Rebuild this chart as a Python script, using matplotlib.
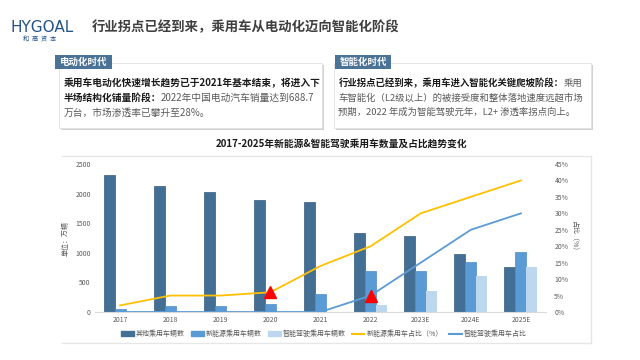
import matplotlib.pyplot as plt
import matplotlib.patches as mpatches
from matplotlib.lines import Line2D
from matplotlib.ticker import FuncFormatter, MultipleLocator

plt.rcParams['font.family'] = ['Noto Sans CJK SC', 'DejaVu Sans']

# data
years = ['2017', '2018', '2019', '2020', '2021', '2022', '2023E', '2024E', '2025E']
other_cars = [2320, 2130, 2030, 1900, 1850, 1340, 1280, 975, 760]
nev_cars = [50, 100, 100, 130, 300, 688.7, 690, 840, 1020]
smart_cars = [0, 0, 0, 0, 0, 110, 350, 600, 760]
nev_share = [0.02, 0.05, 0.05, 0.06, 0.14, 0.20, 0.30, 0.35, 0.40]
smart_share = [0.0, 0.0, 0.0, 0.0, 0.0, 0.05, 0.15, 0.25, 0.30]
legend_labels = ['其他乘用车辆数', '新能源乘用车辆数', '智能驾驶乘用车辆数',
                 '新能源乘用车占比（%）', '智能驾驶乘用车占比']

DARK = '#436F95'
MID = '#5B9BD5'
LIGHT = '#BDD7EE'
YELLOW = '#FFC000'
TAG = '#4A7396'

W, H = 640, 360


def fx(x):
    return x / W


def fy(y):
    return 1 - y / H


fig = plt.figure(figsize=(6.4, 3.6), dpi=100)
bg = fig.add_axes([0, 0, 1, 1])
bg.set_xlim(0, W)
bg.set_ylim(H, 0)
bg.axis('off')

# header
bg.text(11, 27, 'HYGOAL', fontsize=11, color='#24528A', family='DejaVu Sans',
        va='center', ha='left')
bg.text(40, 38.5, '和  高  资  本', fontsize=4.5, color='#24528A', va='center', ha='center')
bg.text(92, 27, '行业拐点已经到来，乘用车从电动化迈向智能化阶段', fontsize=9.6,
        fontweight='bold', color='#3F3F3F', va='center', ha='left')


def info_box(x0, x1, tag_x0, tag_x1, tag, lines, fs):
    y0, y1 = 63, 128
    bg.add_patch(mpatches.Rectangle((x0 + 2, y0 + 2), x1 - x0, y1 - y0,
                                    facecolor='#D0D0D0', edgecolor='none'))
    bg.add_patch(mpatches.Rectangle((x0, y0), x1 - x0, y1 - y0,
                                    facecolor='white', edgecolor='#E2E2E2', lw=0.6))
    bg.add_patch(mpatches.Rectangle((tag_x0, 55), tag_x1 - tag_x0, 14,
                                    facecolor=TAG, edgecolor='none'))
    bg.text((tag_x0 + tag_x1) / 2, 62, tag, fontsize=6.8, fontweight='bold',
            color='white', ha='center', va='center')
    for y, (bold_part, normal_part) in zip([83, 98, 112.5], lines):
        if bold_part:
            t = bg.text(x0 + 4.5, y, bold_part, fontsize=fs, fontweight='bold',
                        color='#1A1A1A', ha='left', va='center')
            if normal_part:
                bg.annotate(normal_part, xy=(1, 0), xycoords=t, fontsize=fs, color='#595959',
                            ha='left', va='bottom')
        else:
            bg.text(x0 + 4.5, y, normal_part, fontsize=fs, color='#595959',
                    ha='left', va='center')


info_box(59, 322, 55, 112, '电动化时代', [
    ('乘用车电动化快速增长趋势已于2021年基本结束，将进入下', ''),
    ('半场结构化铺量阶段：', '2022年中国电动汽车销量达到688.7'),
    ('', '万台，市场渗透率已攀升至28%。'),
], 7)
info_box(334, 591, 335, 391, '智能化时代', [
    ('行业拐点已经到来，乘用车进入智能化关键爬坡阶段：', '乘用'),
    ('', '车智能化（L2级以上）的被接受度和整体落地速度远超市场'),
    ('', '预期，2022 年成为智能驾驶元年，L2+ 渗透率拐点向上。'),
], 6.75)

# chart frame
bg.plot([62, 591], [156, 156], color='#E6E6E6', lw=1)
bg.plot([62, 591], [343, 343], color='#E6E6E6', lw=1)
bg.plot([591, 591], [156, 343], color='#E6E6E6', lw=1)
bg.text(342, 144, '2017-2025年新能源&智能驾驶乘用车数量及占比趋势变化', fontsize=7,
        fontweight='bold', color='#1A1A1A', ha='center', va='center')

ax = fig.add_axes([fx(95), fy(312), fx(546 - 95), (312 - 164) / H])
x = list(range(len(years)))
bw = 0.22
ax.bar([i - bw for i in x], other_cars, bw, color=DARK, edgecolor='#365C7E', lw=0.5)
ax.bar(x, nev_cars, bw, color=MID, edgecolor='#4F8CC4', lw=0.5)
ax.bar([i + bw for i in x], smart_cars, bw, color=LIGHT, edgecolor='none')
ax.set_xlim(-0.5, 8.5)
ax.set_ylim(0, 2500)
ax.yaxis.set_major_locator(MultipleLocator(500))
ax.set_xticks(x)
ax.set_xticklabels(years)
for s in ['top', 'left', 'right']:
    ax.spines[s].set_visible(False)
ax.spines['bottom'].set_color('#D9D9D9')
ax.tick_params(axis='both', length=0, labelsize=4.9, colors='#595959', pad=3)
ax.set_ylabel('单位：万辆', fontsize=5, color='#595959', labelpad=4)

ax2 = ax.twinx()
ax2.plot(x, nev_share, color=YELLOW, lw=1.3)
ax2.plot(x, smart_share, color=MID, lw=1.3)
ax2.plot([x[3]], [nev_share[3]], marker='^', color='red', markersize=8, ls='none')
ax2.plot([x[5]], [smart_share[5]], marker='^', color='red', markersize=8, ls='none')
ax2.set_ylim(0, 0.45)
ax2.yaxis.set_major_locator(MultipleLocator(0.05))
ax2.yaxis.set_major_formatter(FuncFormatter(lambda v, p: f'{round(v * 100)}%'))
for s in ['top', 'left', 'right', 'bottom']:
    ax2.spines[s].set_visible(False)
ax2.tick_params(axis='y', length=0, labelsize=4.9, colors='#595959', pad=6)
ax2.set_ylabel('占比（%）', fontsize=5, color='#595959', rotation=270, labelpad=7)

handles = [
    mpatches.Patch(color=DARK),
    mpatches.Patch(color=MID),
    mpatches.Patch(color=LIGHT),
    Line2D([], [], color=YELLOW, lw=1.5),
    Line2D([], [], color=MID, lw=1.5),
]
fig.legend(handles, legend_labels, loc='center', bbox_to_anchor=(fx(324), fy(334)), ncol=5,
           frameon=False, fontsize=5.0, handlelength=1.8, handleheight=0.6, handletextpad=0.3,
           columnspacing=0.9, labelcolor='#595959')

fig.savefig('out.png', dpi=100)
